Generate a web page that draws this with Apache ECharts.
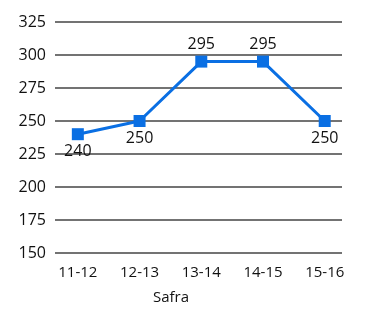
<!DOCTYPE html>
<html><head><meta charset="utf-8">
<script src="https://cdn.jsdelivr.net/npm/echarts@6/dist/echarts.min.js"></script>
<style>html,body{margin:0;padding:0;background:#fff}#c{width:390px;height:319px}</style>
</head><body><div id="c"></div>
<script>
const categories = ['11-12','12-13','13-14','14-15','15-16'];
const values = [240, 250, 295, 295, 250];
const labelPos = ['bottom','bottom','top','top','bottom'];
const yTicks = {min:150, max:325, interval:25};
const xTitle = 'Safra';

const chart = echarts.init(document.getElementById('c'));
const font = '"Open Sans", "Noto Sans", sans-serif';
chart.setOption({
  animation:false,
  backgroundColor:'#fff',
  grid:{left:55, right:48, top:22, bottom:66},
  xAxis:{
    type:'value', min:-0.37, max:4.28,
    splitLine:{show:false}, axisLine:{show:false}, axisTick:{show:false},
    axisLabel:{customValues:[0,1,2,3,4], formatter:v=>categories[Math.round(v)], color:'#111', fontSize:15, fontFamily:font, margin:12}
  },
  yAxis:{
    type:'value', min:yTicks.min, max:yTicks.max, interval:yTicks.interval,
    axisLine:{show:false}, axisTick:{show:false},
    splitLine:{lineStyle:{color:'#444', width:1.5}},
    axisLabel:{color:'#111', fontSize:16, fontFamily:font, margin:9}
  },
  graphic:[{type:'text', x:171, y:298, style:{text:xTitle, textAlign:'center', textVerticalAlign:'middle', fill:'#111', fontSize:15, fontFamily:font}}],
  series:[{
    type:'line',
    data: values.map((v,i)=>({value:[i,v], label:{position:labelPos[i]}})),
    symbol:'rect', symbolSize:12,
    lineStyle:{color:'#0a6fe3', width:3},
    itemStyle:{color:'#0a6fe3'},
    label:{show:true, formatter:p=>p.value[1], color:'#111', fontSize:16, fontFamily:font, distance:3}
  }]
});
</script></body></html>
